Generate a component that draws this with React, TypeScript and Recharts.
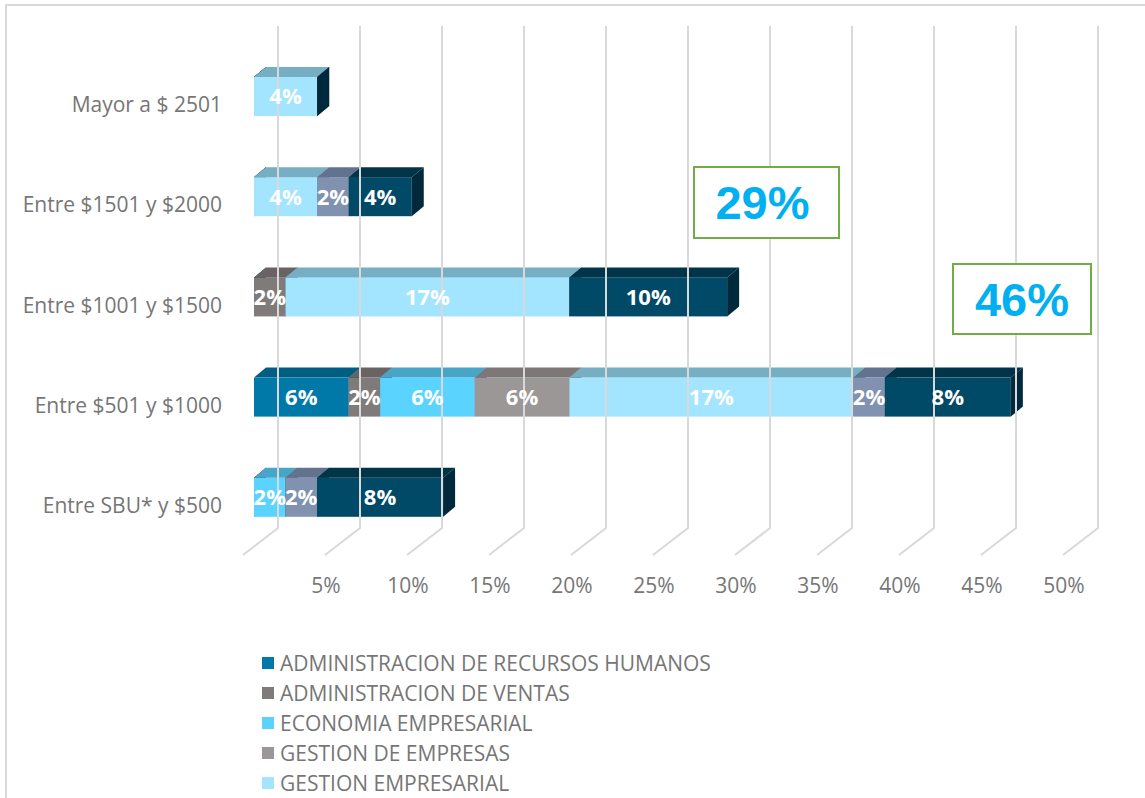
import React from 'react';
import { BarChart, Bar, XAxis, YAxis, LabelList } from 'recharts';

// salary ranges, top row first
const categories = ['Mayor a $ 2501', 'Entre $1501 y $2000', 'Entre $1001 y $1500', 'Entre $501 y $1000', 'Entre SBU* y $500'];

const seriesNames = [
  'ADMINISTRACION DE RECURSOS HUMANOS',
  'ADMINISTRACION DE VENTAS',
  'ECONOMIA EMPRESARIAL',
  'GESTION DE EMPRESAS',
  'GESTION EMPRESARIAL',
  'INGENIERIA COMERCIAL',
  'CONTABILIDAD Y AUDITORIA',
];

// percentages per series, in category order
const recursosHumanos = [0, 0, 0, 5.77, 0];
const ventas = [0, 0, 1.92, 1.92, 0];
const economia = [0, 0, 0, 5.77, 1.92];
const gestionEmpresas = [0, 0, 0, 5.77, 0];
const gestionEmpresarial = [3.85, 3.85, 17.31, 17.31, 0];
const comercial = [0, 1.92, 0, 1.92, 1.92];
const contabilidad = [0, 3.85, 9.62, 7.69, 7.69];

const xTicks = [0, 5, 10, 15, 20, 25, 30, 35, 40, 45, 50];

const seriesValues = [recursosHumanos, ventas, economia, gestionEmpresas, gestionEmpresarial, comercial, contabilidad];

// front / top / side shades
const palette = [
  { front: '#0079A9', top: '#005E84', side: '#004A68' },
  { front: '#7F7B7B', top: '#696363', side: '#524D4D' },
  { front: '#5BD3FF', top: '#47A6C7', side: '#36829C' },
  { front: '#9B9797', top: '#7D7777', side: '#615C5C' },
  { front: '#A3E4FF', top: '#76AEC4', side: '#5C8A9B' },
  { front: '#8192B0', top: '#627390', side: '#4C5A70' },
  { front: '#004A67', top: '#003549', side: '#002A3B' },
];

const data = categories.map((name, i) => {
  const row: Record<string, string | number> = { name };
  seriesNames.forEach((s, k) => {
    row[s] = seriesValues[k][i];
  });
  return row;
});

const rowTotal = (i: number) => seriesValues.reduce((acc, s) => acc + s[i], 0);

// only the first entries fit in the visible frame
const VISIBLE_LEGEND = 5;

const DX = 12;
const DY = 10;
const axisFont = '"Open Sans", sans-serif';
const textGray = '#767676';

function make3dShape(k: number) {
  const c = palette[k];
  return (props: any) => {
    const { x, y, width, height } = props;
    if (x == null || y == null || height == null) return <g />;
    const w = Math.max(0, width || 0);
    const x1 = x + w;
    return (
      <g>
        <rect x={x} y={y} width={w} height={height} fill={c.front} />
        <polygon points={`${x},${y} ${x1},${y} ${x1 + DX},${y - DY} ${x + DX},${y - DY}`} fill={c.top} />
        <polygon points={`${x1},${y} ${x1 + DX},${y - DY} ${x1 + DX},${y + height - DY} ${x1},${y + height}`} fill={c.side} />
      </g>
    );
  };
}

const XTick = (props: any) => {
  const { x, payload } = props;
  return (
    <g>
      <polyline
        points={`${x + 24},26 ${x + 24},528 ${x - 11},555`}
        fill="none"
        stroke="#D9D9D9"
        strokeWidth={2}
      />
      {payload.value !== 0 && (
        <text x={x - 10} y={593} textAnchor="middle" fontFamily={axisFont} fontSize={21} fill={textGray}>
          {payload.value}%
        </text>
      )}
    </g>
  );
};

const YTick = (props: any) => {
  const { x, y, payload } = props;
  return (
    <text x={x} y={y + 16} textAnchor="end" fontFamily={axisFont} fontSize={21} fill={textGray}>
      {payload.value}
    </text>
  );
};

const SegmentLabel = (props: any) => {
  const { x, y, width, height, value } = props;
  if (!value) return null;
  return (
    <text
      x={x + width / 2}
      y={y + height / 2}
      dy="0.36em"
      textAnchor="middle"
      fontFamily={axisFont}
      fontWeight={700}
      fontSize={22}
      fill="#FFFFFF"
    >
      {Math.round(value)}%
    </text>
  );
};

const boxStyle: React.CSSProperties = {
  position: 'absolute',
  border: '2px solid #70AD47',
  boxSizing: 'border-box',
  display: 'flex',
  alignItems: 'center',
  justifyContent: 'center',
  color: '#00B0F0',
  fontFamily: '"Liberation Sans", Arial, sans-serif',
  fontWeight: 700,
  fontSize: 47,
  background: '#FFFFFF',
};

export default function App() {
  return (
    <div style={{ position: 'relative', width: 1145, height: 798, overflow: 'hidden', background: '#FFFFFF' }}>
      <style>{'body{margin:0}'}</style>
      <div
        style={{
          position: 'absolute',
          left: 5,
          top: 4,
          width: 1300,
          height: 1000,
          border: '2px solid #D9D9D9',
        }}
      />
      <div style={{ position: 'absolute', left: 0, top: 0 }}>
        <BarChart
          width={1145}
          height={607}
          data={data}
          layout="vertical"
          margin={{ top: 46, right: 71, bottom: 0, left: 0 }}
          barSize={39}
        >
          <XAxis
            type="number"
            domain={[0, 50]}
            ticks={xTicks}
            tick={<XTick />}
            axisLine={false}
            tickLine={false}
            height={60}
            interval={0}
          />
          <YAxis
            type="category"
            dataKey="name"
            width={254}
            axisLine={false}
            tickLine={false}
            tick={<YTick />}
            tickMargin={26}
            interval={0}
          />
          {seriesNames.map((s, k) => (
            <Bar key={s} dataKey={s} stackId="a" isAnimationActive={false} shape={make3dShape(k)}>
              <LabelList dataKey={s} content={<SegmentLabel />} />
            </Bar>
          ))}
        </BarChart>
      </div>

      <div style={{ ...boxStyle, left: 693, top: 166, width: 147, height: 73, paddingRight: 8 }}>{Math.round(rowTotal(2))}%</div>
      <div style={{ ...boxStyle, left: 952, top: 263, width: 140, height: 72 }}>{Math.round(rowTotal(3))}%</div>

      <div style={{ position: 'absolute', left: 262, top: 648 }}>
        {seriesNames.slice(0, VISIBLE_LEGEND).map((s, k) => (
          <div key={s} style={{ display: 'flex', alignItems: 'center', height: 30 }}>
            <span style={{ width: 12, height: 12, background: palette[k].front, marginRight: 6 }} />
            <span style={{ fontFamily: axisFont, fontSize: 21, lineHeight: '30px', color: textGray, whiteSpace: 'nowrap' }}>{s}</span>
          </div>
        ))}
      </div>
    </div>
  );
}
